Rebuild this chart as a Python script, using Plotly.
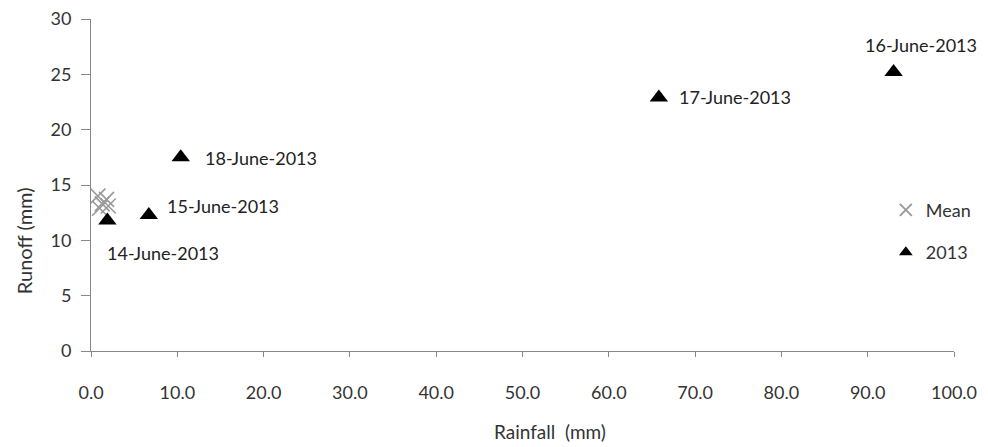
import plotly.graph_objects as go

# Data
dates = ["14-June-2013", "15-June-2013", "18-June-2013", "17-June-2013", "16-June-2013"]
rain_2013 = [1.9, 6.7, 10.4, 65.8, 93.0]
runoff_2013 = [11.8, 12.3, 17.5, 22.9, 25.2]

rain_mean = [0.8, 1.3, 1.8, 1.0, 2.0]
runoff_mean = [14.0, 13.3, 13.7, 12.9, 13.1]

x_ticks = [0, 10, 20, 30, 40, 50, 60, 70, 80, 90, 100]
y_ticks = [0, 5, 10, 15, 20, 25, 30]

x_title = "Rainfall\u00a0\u00a0(mm)"
y_title = "Runoff (mm)"

# label offsets (px)
lab_dx = [-2, 16, 22, 18, -31]
lab_dy = [-33, 9, -1, 1, 27]

FONT = "Lato, 'Open Sans', sans-serif"
FS = 18

fig = go.Figure()
fig.add_trace(go.Scatter(
    x=rain_mean, y=runoff_mean, mode="markers", name="Mean",
    legendgroup="a",
    marker=dict(symbol="x-thin", size=15, line=dict(color="#9a9a9a", width=1.6)),
))
fig.add_trace(go.Scatter(
    x=rain_2013, y=runoff_2013, mode="markers", name="2013",
    legendgroup="b",
    marker=dict(symbol="triangle-up", size=16, color="black"),
))

for x, y, t, dx, dy in zip(rain_2013, runoff_2013, dates, lab_dx, lab_dy):
    fig.add_annotation(x=x, y=y, text=t, showarrow=False, xanchor="left",
                       yanchor="middle", xshift=dx, yshift=dy,
                       font=dict(size=FS, color="#222", family=FONT))

# axis titles
fig.add_annotation(xref="paper", yref="paper", x=0.532, y=-0.243, text=x_title,
                   showarrow=False, xanchor="center", yanchor="middle",
                   font=dict(size=19, color="#333", family=FONT))
fig.add_annotation(xref="paper", yref="paper", x=-0.0776, y=0.331, text=y_title,
                   showarrow=False, xanchor="center", yanchor="middle", textangle=-90,
                   font=dict(size=20, color="#333", family=FONT))

fig.update_layout(
    width=980, height=439,
    margin=dict(l=83, r=34, t=11, b=96),
    paper_bgcolor="white", plot_bgcolor="white",
    font=dict(family=FONT, size=FS, color="#333"),
    showlegend=True,
    legend=dict(x=0.921, y=0.48, xanchor="left", yanchor="top",
                tracegroupgap=16, itemwidth=30, itemsizing="constant",
                font=dict(size=FS, color="#333"), bgcolor="rgba(0,0,0,0)"),
    xaxis=dict(range=[0, 100], tickvals=x_ticks, tickformat=".1f",
               automargin=False, ticklabeloverflow="allow",
               showgrid=False, zeroline=False, showline=True,
               linecolor="#888", linewidth=1, ticks="outside", ticklen=5,
               tickcolor="#888", ticklabelstandoff=20,
               tickfont=dict(size=FS)),
    yaxis=dict(range=[0, 30], tickvals=y_ticks,
               automargin=False, ticklabeloverflow="allow",
               showgrid=False, zeroline=False, showline=True,
               linecolor="#888", linewidth=1, ticks="outside", ticklen=9,
               tickcolor="#888", ticklabelstandoff=6,
               tickfont=dict(size=FS)),
)

fig.write_html("out.html")
